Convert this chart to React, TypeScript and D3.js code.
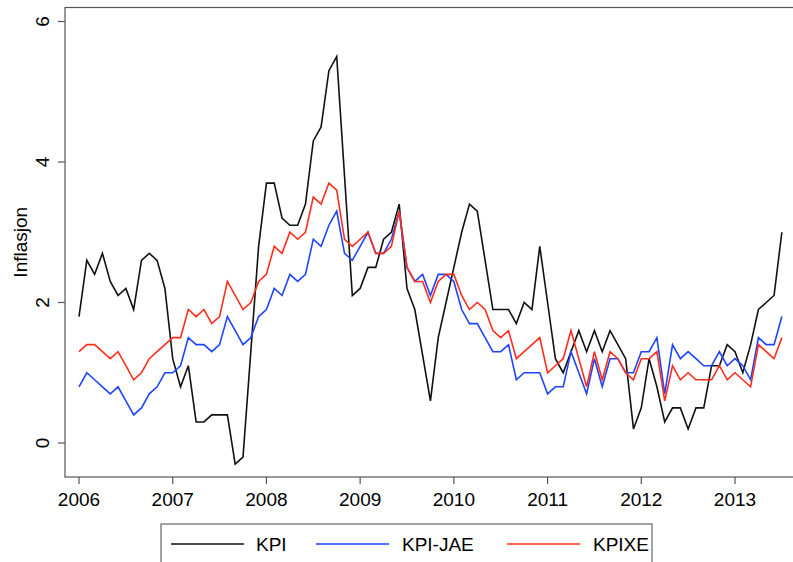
import React from "react";
import * as d3 from "d3";

const startYear = 2006;
const yearTicks = [2006, 2007, 2008, 2009, 2010, 2011, 2012, 2013];
const yTicks = [0, 2, 4, 6];

const kpi = [
  1.8, 2.6, 2.4, 2.7, 2.3, 2.1, 2.2, 1.9, 2.6, 2.7, 2.6, 2.2,
  1.2, 0.8, 1.1, 0.3, 0.3, 0.4, 0.4, 0.4, -0.3, -0.2, 1.3, 2.8,
  3.7, 3.7, 3.2, 3.1, 3.1, 3.4, 4.3, 4.5, 5.3, 5.5, 3.8, 2.1,
  2.2, 2.5, 2.5, 2.9, 3.0, 3.4, 2.2, 1.9, 1.25, 0.6, 1.5, 2.0,
  2.5, 3.0, 3.4, 3.3, 2.6, 1.9, 1.9, 1.9, 1.7, 2.0, 1.9, 2.8,
  2.0, 1.2, 1.0, 1.3, 1.6, 1.3, 1.6, 1.3, 1.6, 1.4, 1.2, 0.2,
  0.5, 1.2, 0.8, 0.3, 0.5, 0.5, 0.2, 0.5, 0.5, 1.1, 1.1, 1.4,
  1.3, 1.0, 1.4, 1.9, 2.0, 2.1, 3.0,
];

const kpiJae = [
  0.8, 1.0, 0.9, 0.8, 0.7, 0.8, 0.6, 0.4, 0.5, 0.7, 0.8, 1.0,
  1.0, 1.1, 1.5, 1.4, 1.4, 1.3, 1.4, 1.8, 1.6, 1.4, 1.5, 1.8,
  1.9, 2.2, 2.1, 2.4, 2.3, 2.4, 2.9, 2.8, 3.1, 3.3, 2.7, 2.6,
  2.8, 3.0, 2.7, 2.7, 2.9, 3.3, 2.5, 2.3, 2.4, 2.1, 2.4, 2.4,
  2.3, 1.9, 1.7, 1.7, 1.5, 1.3, 1.3, 1.4, 0.9, 1.0, 1.0, 1.0,
  0.7, 0.8, 0.8, 1.3, 1.0, 0.7, 1.2, 0.8, 1.2, 1.2, 1.0, 1.0,
  1.3, 1.3, 1.5, 0.7, 1.4, 1.2, 1.3, 1.2, 1.1, 1.1, 1.3, 1.1,
  1.2, 1.1, 0.9, 1.5, 1.4, 1.4, 1.8,
];

const kpixe = [
  1.3, 1.4, 1.4, 1.3, 1.2, 1.3, 1.1, 0.9, 1.0, 1.2, 1.3, 1.4,
  1.5, 1.5, 1.9, 1.8, 1.9, 1.7, 1.8, 2.3, 2.1, 1.9, 2.0, 2.3,
  2.4, 2.8, 2.7, 3.0, 2.9, 3.0, 3.5, 3.4, 3.7, 3.6, 2.9, 2.8,
  2.9, 3.0, 2.7, 2.7, 2.8, 3.3, 2.5, 2.3, 2.3, 2.0, 2.3, 2.4,
  2.4, 2.1, 1.9, 2.0, 1.9, 1.6, 1.5, 1.6, 1.2, 1.3, 1.4, 1.5,
  1.0, 1.1, 1.2, 1.6, 1.2, 0.8, 1.3, 0.9, 1.3, 1.2, 1.0, 0.9,
  1.2, 1.2, 1.3, 0.6, 1.1, 0.9, 1.0, 0.9, 0.9, 0.9, 1.1, 0.9,
  1.0, 0.9, 0.8, 1.4, 1.3, 1.2, 1.5,
];

const seriesNames = ["KPI", "KPI-JAE", "KPIXE"];
const seriesColors = ["#111111", "#1f44ff", "#ff2d1c"];
const seriesData = [kpi, kpiJae, kpixe];

const W = 793;
const H = 562;
const frameL = 65;
const frameR = 796;
const frameT = 7.5;
const frameB = 477;
const FONT = "'Liberation Sans', Arial, Helvetica, sans-serif";

export default function App() {
  const x = d3.scaleLinear().domain([2006, 2013]).range([79, 735]);
  const y = d3.scaleLinear().domain([0, 6]).range([443, 21.5]);
  const line = d3
    .line<number>()
    .x((_, i) => x(startYear + i / 12))
    .y((d) => y(d));

  const legendX = [171, 316, 507];
  const legendTextX = [256, 402, 593];
  const legendY = 544;

  return (
    <svg
      width={W}
      height={H}
      style={{ position: "absolute", left: 0, top: 0, background: "#fff" }}
      fontFamily={FONT}
    >
      <rect x={0} y={0} width={W} height={H} fill="#fff" />
      {/* frame */}
      <rect
        x={frameL}
        y={frameT}
        width={frameR - frameL}
        height={frameB - frameT}
        fill="none"
        stroke="#555"
        strokeWidth={1.2}
      />
      {/* y ticks */}
      {yTicks.map((t) => (
        <g key={"y" + t}>
          <line x1={frameL - 7} x2={frameL} y1={y(t)} y2={y(t)} stroke="#555" strokeWidth={1.2} />
          <text
            transform={`translate(42,${y(t)}) rotate(-90)`}
            textAnchor="middle"
            dominantBaseline="central"
            fontSize={19}
            fill="#000"
          >
            {t}
          </text>
        </g>
      ))}
      {/* x ticks */}
      {yearTicks.map((t) => (
        <g key={"x" + t}>
          <line x1={x(t)} x2={x(t)} y1={frameB} y2={frameB + 7} stroke="#555" strokeWidth={1.2} />
          <text x={x(t)} y={506} textAnchor="middle" fontSize={19} fill="#000">
            {t}
          </text>
        </g>
      ))}
      <text
        transform={`translate(20,${(frameT + frameB) / 2}) rotate(-90)`}
        textAnchor="middle"
        dominantBaseline="central"
        fontSize={19}
        fill="#000"
      >
        Inflasjon
      </text>
      {/* series */}
      {seriesData.map((s, k) => (
        <path
          key={seriesNames[k]}
          d={line(s) || ""}
          fill="none"
          stroke={seriesColors[k]}
          strokeWidth={1.6}
          strokeLinejoin="miter"
        />
      ))}
      {/* legend */}
      <rect x={161} y={524} width={491} height={60} fill="#fff" stroke="#666" strokeWidth={1.2} />
      {seriesNames.map((n, k) => (
        <g key={"lg" + n}>
          <line
            x1={legendX[k]}
            x2={legendX[k] + 73}
            y1={legendY}
            y2={legendY}
            stroke={seriesColors[k]}
            strokeWidth={1.6}
          />
          <text x={legendTextX[k]} y={legendY} dominantBaseline="central" fontSize={19} fill="#000">
            {n}
          </text>
        </g>
      ))}
    </svg>
  );
}
